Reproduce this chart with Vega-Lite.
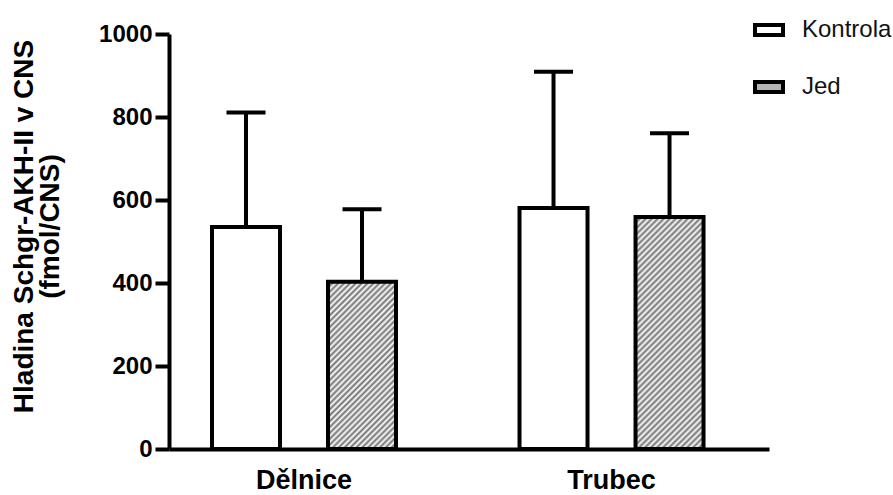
{
  "$schema": "https://vega.github.io/schema/vega-lite/v6.json",
  "width": 600,
  "height": 415,
  "autosize": "none",
  "padding": {"left": 169, "top": 34, "right": 124, "bottom": 46},
  "background": "white",
  "config": {"view": {"stroke": null}},
  "data": {
    "values": [
      {"group": "Dělnice", "treatment": "Kontrola", "mean": 535, "upper": 811},
      {"group": "Dělnice", "treatment": "Jed", "mean": 403, "upper": 578},
      {"group": "Trubec", "treatment": "Kontrola", "mean": 581, "upper": 909},
      {"group": "Trubec", "treatment": "Jed", "mean": 559, "upper": 761}
    ]
  },
  "encoding": {
    "x": {
      "field": "group", "type": "nominal", "sort": ["Dělnice", "Trubec"],
      "scale": {"paddingInner": 0.1545, "paddingOuter": 0.0528, "align": 0.154},
      "axis": {
        "title": null, "labelAngle": 0, "ticks": false, "tickSize": 0,
        "domainColor": "black", "domainWidth": 4,
        "labelFont": "Liberation Sans", "labelFontSize": 27, "labelFontWeight": "bold",
        "labelColor": "black", "labelPadding": 18
      }
    },
    "xOffset": {
      "field": "treatment", "type": "nominal", "sort": ["Kontrola", "Jed"],
      "scale": {"paddingInner": 0.4138, "paddingOuter": 0.3276}
    }
  },
  "layer": [
    {
      "mark": {"type": "bar", "stroke": "black", "strokeWidth": 4},
      "encoding": {
        "y": {
          "field": "mean", "type": "quantitative",
          "scale": {"domain": [0, 1000], "nice": false},
          "axis": {
            "values": [0, 200, 400, 600, 800, 1000], "format": "d", "grid": false,
            "domainColor": "black", "domainWidth": 4,
            "tickColor": "black", "tickWidth": 4, "tickSize": 14,
            "labelFont": "Liberation Sans", "labelFontSize": 24, "labelFontWeight": "bold",
            "labelColor": "black", "labelPadding": 3,
            "title": ["Hladina Schgr-AKH-II v CNS", "(fmol/CNS)"],
            "titleFont": "Liberation Sans", "titleFontSize": 28, "titleFontWeight": "bold",
            "titleColor": "black", "titlePadding": 34, "titleLineHeight": 26, "titleY": 192
          }
        },
        "stroke": {
          "field": "treatment", "type": "nominal",
          "scale": {"domain": ["Kontrola", "Jed"], "range": ["black", "black"]},
          "legend": {
            "orient": "none", "legendX": 584, "legendY": -20, "title": null, "padding": 0,
            "rowPadding": 28, "labelFont": "Liberation Sans", "labelFontSize": 24,
            "labelColor": "#111", "labelOffset": 17,
            "symbolType": "M-1,-0.357H1V0.357H-1Z", "symbolSize": 784,
            "symbolStrokeWidth": 4
          }
        },
        "fill": {
          "field": "treatment", "type": "nominal",
          "scale": {"domain": ["Kontrola", "Jed"], "range": ["white", "#b4b4b4"]},
          "legend": {
            "orient": "none", "legendX": 584, "legendY": -20, "title": null, "padding": 0,
            "rowPadding": 28, "labelFont": "Liberation Sans", "labelFontSize": 24,
            "labelColor": "#111", "labelOffset": 17,
            "symbolType": "M-1,-0.357H1V0.357H-1Z", "symbolSize": 784,
            "symbolStrokeWidth": 4
          },
          "condition": [
            {"test": "datum.group === 'Dělnice' && datum.treatment === 'Jed'", "value": {
              "gradient": "linear", "x1": 0, "y1": 0, "x2": 0.4915, "y2": 1.207,
              "stops": [
                {"offset": 0, "color": "#707070"}, {"offset": 0.0125, "color": "#ffffff"},
                {"offset": 0.025, "color": "#707070"}, {"offset": 0.0375, "color": "#ffffff"},
                {"offset": 0.05, "color": "#707070"}, {"offset": 0.0625, "color": "#ffffff"},
                {"offset": 0.075, "color": "#707070"}, {"offset": 0.0875, "color": "#ffffff"},
                {"offset": 0.1, "color": "#707070"}, {"offset": 0.1125, "color": "#ffffff"},
                {"offset": 0.125, "color": "#707070"}, {"offset": 0.1375, "color": "#ffffff"},
                {"offset": 0.15, "color": "#707070"}, {"offset": 0.1625, "color": "#ffffff"},
                {"offset": 0.175, "color": "#707070"}, {"offset": 0.1875, "color": "#ffffff"},
                {"offset": 0.2, "color": "#707070"}, {"offset": 0.2125, "color": "#ffffff"},
                {"offset": 0.225, "color": "#707070"}, {"offset": 0.2375, "color": "#ffffff"},
                {"offset": 0.25, "color": "#707070"}, {"offset": 0.2625, "color": "#ffffff"},
                {"offset": 0.275, "color": "#707070"}, {"offset": 0.2875, "color": "#ffffff"},
                {"offset": 0.3, "color": "#707070"}, {"offset": 0.3125, "color": "#ffffff"},
                {"offset": 0.325, "color": "#707070"}, {"offset": 0.3375, "color": "#ffffff"},
                {"offset": 0.35, "color": "#707070"}, {"offset": 0.3625, "color": "#ffffff"},
                {"offset": 0.375, "color": "#707070"}, {"offset": 0.3875, "color": "#ffffff"},
                {"offset": 0.4, "color": "#707070"}, {"offset": 0.4125, "color": "#ffffff"},
                {"offset": 0.425, "color": "#707070"}, {"offset": 0.4375, "color": "#ffffff"},
                {"offset": 0.45, "color": "#707070"}, {"offset": 0.4625, "color": "#ffffff"},
                {"offset": 0.475, "color": "#707070"}, {"offset": 0.4875, "color": "#ffffff"},
                {"offset": 0.5, "color": "#707070"}, {"offset": 0.5125, "color": "#ffffff"},
                {"offset": 0.525, "color": "#707070"}, {"offset": 0.5375, "color": "#ffffff"},
                {"offset": 0.55, "color": "#707070"}, {"offset": 0.5625, "color": "#ffffff"},
                {"offset": 0.575, "color": "#707070"}, {"offset": 0.5875, "color": "#ffffff"},
                {"offset": 0.6, "color": "#707070"}, {"offset": 0.6125, "color": "#ffffff"},
                {"offset": 0.625, "color": "#707070"}, {"offset": 0.6375, "color": "#ffffff"},
                {"offset": 0.65, "color": "#707070"}, {"offset": 0.6625, "color": "#ffffff"},
                {"offset": 0.675, "color": "#707070"}, {"offset": 0.6875, "color": "#ffffff"},
                {"offset": 0.7, "color": "#707070"}, {"offset": 0.7125, "color": "#ffffff"},
                {"offset": 0.725, "color": "#707070"}, {"offset": 0.7375, "color": "#ffffff"},
                {"offset": 0.75, "color": "#707070"}, {"offset": 0.7625, "color": "#ffffff"},
                {"offset": 0.775, "color": "#707070"}, {"offset": 0.7875, "color": "#ffffff"},
                {"offset": 0.8, "color": "#707070"}, {"offset": 0.8125, "color": "#ffffff"},
                {"offset": 0.825, "color": "#707070"}, {"offset": 0.8375, "color": "#ffffff"},
                {"offset": 0.85, "color": "#707070"}, {"offset": 0.8625, "color": "#ffffff"},
                {"offset": 0.875, "color": "#707070"}, {"offset": 0.8875, "color": "#ffffff"},
                {"offset": 0.9, "color": "#707070"}, {"offset": 0.9125, "color": "#ffffff"},
                {"offset": 0.925, "color": "#707070"}, {"offset": 0.9375, "color": "#ffffff"},
                {"offset": 0.95, "color": "#707070"}, {"offset": 0.9625, "color": "#ffffff"},
                {"offset": 0.975, "color": "#707070"}, {"offset": 0.9875, "color": "#ffffff"},
                {"offset": 1, "color": "#707070"}
              ]}},
            {"test": "datum.group === 'Trubec' && datum.treatment === 'Jed'", "value": {
              "gradient": "linear", "x1": 0, "y1": 0, "x2": 0.349, "y2": 1.191,
              "stops": [
                {"offset": 0, "color": "#707070"}, {"offset": 0.01, "color": "#ffffff"},
                {"offset": 0.02, "color": "#707070"}, {"offset": 0.03, "color": "#ffffff"},
                {"offset": 0.04, "color": "#707070"}, {"offset": 0.05, "color": "#ffffff"},
                {"offset": 0.06, "color": "#707070"}, {"offset": 0.07, "color": "#ffffff"},
                {"offset": 0.08, "color": "#707070"}, {"offset": 0.09, "color": "#ffffff"},
                {"offset": 0.1, "color": "#707070"}, {"offset": 0.11, "color": "#ffffff"},
                {"offset": 0.12, "color": "#707070"}, {"offset": 0.13, "color": "#ffffff"},
                {"offset": 0.14, "color": "#707070"}, {"offset": 0.15, "color": "#ffffff"},
                {"offset": 0.16, "color": "#707070"}, {"offset": 0.17, "color": "#ffffff"},
                {"offset": 0.18, "color": "#707070"}, {"offset": 0.19, "color": "#ffffff"},
                {"offset": 0.2, "color": "#707070"}, {"offset": 0.21, "color": "#ffffff"},
                {"offset": 0.22, "color": "#707070"}, {"offset": 0.23, "color": "#ffffff"},
                {"offset": 0.24, "color": "#707070"}, {"offset": 0.25, "color": "#ffffff"},
                {"offset": 0.26, "color": "#707070"}, {"offset": 0.27, "color": "#ffffff"},
                {"offset": 0.28, "color": "#707070"}, {"offset": 0.29, "color": "#ffffff"},
                {"offset": 0.3, "color": "#707070"}, {"offset": 0.31, "color": "#ffffff"},
                {"offset": 0.32, "color": "#707070"}, {"offset": 0.33, "color": "#ffffff"},
                {"offset": 0.34, "color": "#707070"}, {"offset": 0.35, "color": "#ffffff"},
                {"offset": 0.36, "color": "#707070"}, {"offset": 0.37, "color": "#ffffff"},
                {"offset": 0.38, "color": "#707070"}, {"offset": 0.39, "color": "#ffffff"},
                {"offset": 0.4, "color": "#707070"}, {"offset": 0.41, "color": "#ffffff"},
                {"offset": 0.42, "color": "#707070"}, {"offset": 0.43, "color": "#ffffff"},
                {"offset": 0.44, "color": "#707070"}, {"offset": 0.45, "color": "#ffffff"},
                {"offset": 0.46, "color": "#707070"}, {"offset": 0.47, "color": "#ffffff"},
                {"offset": 0.48, "color": "#707070"}, {"offset": 0.49, "color": "#ffffff"},
                {"offset": 0.5, "color": "#707070"}, {"offset": 0.51, "color": "#ffffff"},
                {"offset": 0.52, "color": "#707070"}, {"offset": 0.53, "color": "#ffffff"},
                {"offset": 0.54, "color": "#707070"}, {"offset": 0.55, "color": "#ffffff"},
                {"offset": 0.56, "color": "#707070"}, {"offset": 0.57, "color": "#ffffff"},
                {"offset": 0.58, "color": "#707070"}, {"offset": 0.59, "color": "#ffffff"},
                {"offset": 0.6, "color": "#707070"}, {"offset": 0.61, "color": "#ffffff"},
                {"offset": 0.62, "color": "#707070"}, {"offset": 0.63, "color": "#ffffff"},
                {"offset": 0.64, "color": "#707070"}, {"offset": 0.65, "color": "#ffffff"},
                {"offset": 0.66, "color": "#707070"}, {"offset": 0.67, "color": "#ffffff"},
                {"offset": 0.68, "color": "#707070"}, {"offset": 0.69, "color": "#ffffff"},
                {"offset": 0.7, "color": "#707070"}, {"offset": 0.71, "color": "#ffffff"},
                {"offset": 0.72, "color": "#707070"}, {"offset": 0.73, "color": "#ffffff"},
                {"offset": 0.74, "color": "#707070"}, {"offset": 0.75, "color": "#ffffff"},
                {"offset": 0.76, "color": "#707070"}, {"offset": 0.77, "color": "#ffffff"},
                {"offset": 0.78, "color": "#707070"}, {"offset": 0.79, "color": "#ffffff"},
                {"offset": 0.8, "color": "#707070"}, {"offset": 0.81, "color": "#ffffff"},
                {"offset": 0.82, "color": "#707070"}, {"offset": 0.83, "color": "#ffffff"},
                {"offset": 0.84, "color": "#707070"}, {"offset": 0.85, "color": "#ffffff"},
                {"offset": 0.86, "color": "#707070"}, {"offset": 0.87, "color": "#ffffff"},
                {"offset": 0.88, "color": "#707070"}, {"offset": 0.89, "color": "#ffffff"},
                {"offset": 0.9, "color": "#707070"}, {"offset": 0.91, "color": "#ffffff"},
                {"offset": 0.92, "color": "#707070"}, {"offset": 0.93, "color": "#ffffff"},
                {"offset": 0.94, "color": "#707070"}, {"offset": 0.95, "color": "#ffffff"},
                {"offset": 0.96, "color": "#707070"}, {"offset": 0.97, "color": "#ffffff"},
                {"offset": 0.98, "color": "#707070"}, {"offset": 0.99, "color": "#ffffff"},
                {"offset": 1, "color": "#707070"}
              ]}}
          ]
        }
      }
    },
    {
      "mark": {"type": "rule", "color": "black", "strokeWidth": 4},
      "encoding": {
        "y": {"field": "mean", "type": "quantitative"},
        "y2": {"field": "upper"}
      }
    },
    {
      "mark": {"type": "tick", "color": "black", "size": 39, "thickness": 4, "opacity": 1},
      "encoding": {
        "y": {"field": "upper", "type": "quantitative"}
      }
    }
  ]
}
